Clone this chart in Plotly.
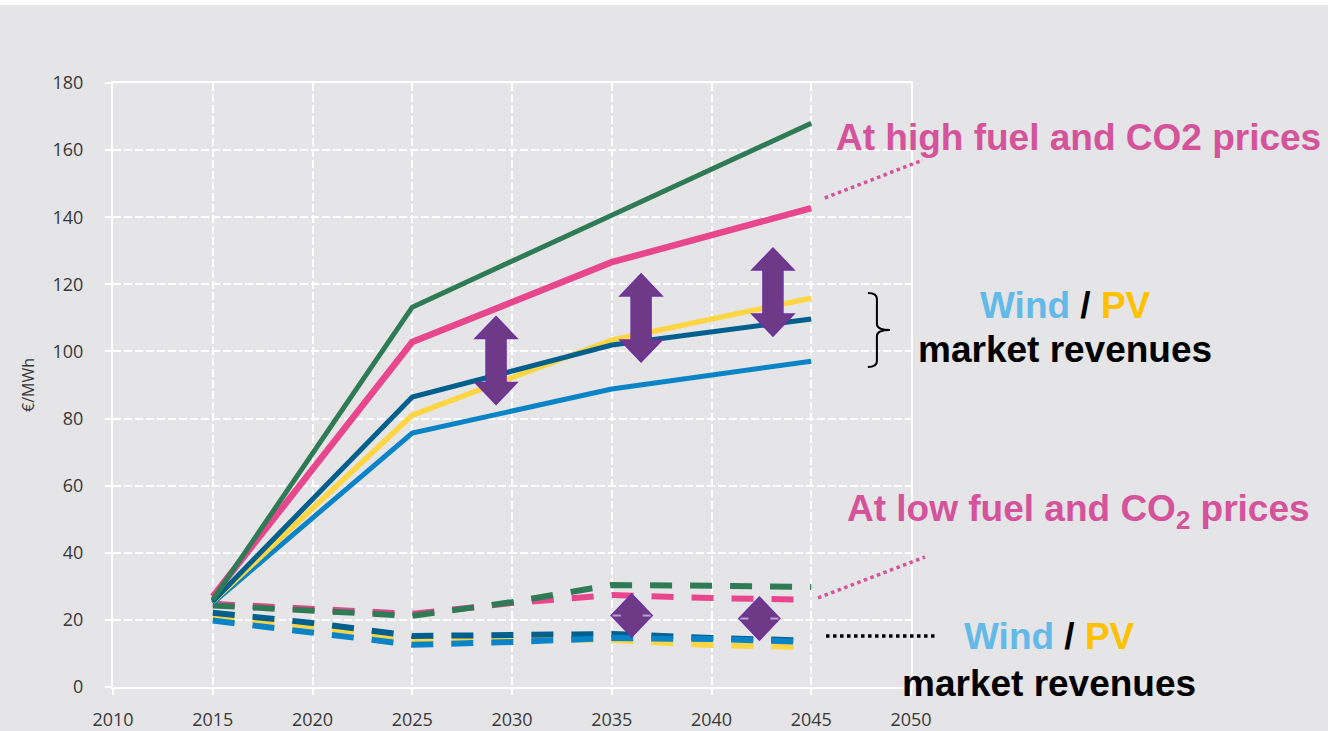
import plotly.graph_objects as go

# Wholesale electricity prices and renewable market revenues (€/MWh)
years = [2015, 2025, 2035, 2045]
years_dash = [2015, 2020, 2025, 2030, 2035, 2040, 2045]

# High fuel and CO2 price scenario (solid lines)
high_baseload = [26, 113.2, 140.6, 168]
high_price = [27, 102.8, 126.6, 142.7]
high_pv = [25.5, 81, 103.4, 115.9]
high_wind_dark = [25.5, 86.4, 101.9, 109.7]
high_wind_light = [25, 75.7, 88.8, 97.1]

# Low fuel and CO2 price scenario (dashed lines)
low_baseload = [24.3, 22.6, 21.2, 25.3, 30.4, 30.2, 29.8]
low_price = [24.8, 23.2, 21.8, 25.0, 27.4, 26.5, 26.0]
low_pv = [21.0, 18.0, 14.2, 14.6, 14.0, 12.5, 11.9]
low_wind_dark = [22.1, 19.1, 15.2, 15.5, 15.8, 14.6, 13.8]
low_wind_light = [19.8, 16.4, 12.6, 13.4, 14.6, 14.3, 13.4]

x_ticks = [2010, 2015, 2020, 2025, 2030, 2035, 2040, 2045, 2050]
y_ticks = [0, 20, 40, 60, 80, 100, 120, 140, 160, 180]

GREEN = "#2e7b56"
PINK = "#e8478d"
YELLOW = "#fed543"
DARK_BLUE = "#005f8d"
LIGHT_BLUE = "#0a84c6"
PURPLE = "#6e3a87"
PURPLE_EDGE = "#7030a0"
TEXT_PINK = "#d4539a"
TEXT_BLUE = "#63b9e7"
TEXT_GOLD = "#ffc000"
BG = "#e5e5e8"

fig = go.Figure()

DASH = "22px,18px"
for vals, col in [(low_pv, YELLOW), (low_wind_dark, DARK_BLUE), (low_wind_light, LIGHT_BLUE),
                  (low_price, PINK), (low_baseload, GREEN)]:
    fig.add_trace(go.Scatter(x=years_dash, y=vals, mode="lines",
                             line=dict(color=col, width=6, dash=DASH),
                             hoverinfo="skip", showlegend=False))

for vals, col, w in [(high_wind_light, LIGHT_BLUE, 5), (high_pv, YELLOW, 5.5),
                     (high_wind_dark, DARK_BLUE, 5), (high_price, PINK, 6.5),
                     (high_baseload, GREEN, 5)]:
    fig.add_trace(go.Scatter(x=years, y=vals, mode="lines",
                             line=dict(color=col, width=w),
                             hoverinfo="skip", showlegend=False))

# Purple double arrows showing the gap between price and revenues
arrow_path = ("M 0,44 L 21,22 L 10,22 L 10,-22 L 21,-22 L 0,-44 "
              "L -21,-22 L -10,-22 L -10,22 L -21,22 Z")
diamond_path = "M 0,21.5 L 20.5,0 L 0,-21.5 L -20.5,0 Z"
shapes = []
for ax_, ay_ in [(2029.2, 97.3), (2036.47, 110.0), (2043.08, 117.7)]:
    shapes.append(dict(type="path", xref="x", yref="y", xsizemode="pixel", ysizemode="pixel",
                       xanchor=ax_, yanchor=ay_, path=arrow_path,
                       fillcolor=PURPLE, line=dict(color=PURPLE_EDGE, width=1.5)))
for ax_, ay_ in [(2036.0, 21.3), (2042.4, 20.4)]:
    shapes.append(dict(type="path", xref="x", yref="y", xsizemode="pixel", ysizemode="pixel",
                       xanchor=ax_, yanchor=ay_, path=diamond_path,
                       fillcolor=PURPLE, line=dict(color=PURPLE_EDGE, width=1.5)))
    for seg in ["M -19,0 L -11,0", "M 11,0 L 19,0"]:
        shapes.append(dict(type="path", xref="x", yref="y", xsizemode="pixel", ysizemode="pixel",
                           xanchor=ax_, yanchor=ay_, path=seg,
                           line=dict(color="#b9a2d6", width=2)))

# Leader lines and brace
shapes.append(dict(type="line", xref="paper", yref="paper", x0=0.892, y0=0.8096, x1=1.015, y1=0.8725,
                   line=dict(color=TEXT_PINK, width=3.5, dash="dot")))
shapes.append(dict(type="line", xref="paper", yref="paper", x0=0.8835, y0=0.1474, x1=1.0175, y1=0.2152,
                   line=dict(color=TEXT_PINK, width=3.5, dash="dot")))
shapes.append(dict(type="line", xref="paper", yref="paper", x0=0.8935, y0=0.0844, x1=1.0326, y1=0.0844,
                   line=dict(color="black", width=3.5, dash="dot")))
shapes.append(dict(type="path", xref="paper", yref="paper", xsizemode="pixel", ysizemode="pixel",
                   xanchor=0.946, yanchor=0.591,
                   path=("M 0,37 Q 9,37 9,31 L 9,6 Q 9,0 22,0 "
                         "Q 9,0 9,-6 L 9,-31 Q 9,-37 0,-37"),
                   line=dict(color="black", width=2)))
# thin white strip along the top edge
shapes.append(dict(type="rect", xref="paper", yref="paper", x0=-0.2, x1=1.6, y0=1.1291, y1=1.2,
                   fillcolor="white", line=dict(width=0), layer="below"))

BIG = dict(family="Liberation Sans, Arial, sans-serif", size=37)
annotations = [
    dict(text="<b>At high fuel and CO2 prices</b>", x=1.2105, y=0.909,
         font=dict(color=TEXT_PINK, **BIG)),
    dict(text="<b>At low fuel and CO<sub>2</sub> prices</b>", x=1.2105, y=0.2914,
         font=dict(color=TEXT_PINK, **BIG)),
    dict(text=(f"<b><span style='color:{TEXT_BLUE}'>Wind</span> / "
               f"<span style='color:{TEXT_GOLD}'>PV</span></b>"), x=1.193, y=0.632,
         font=dict(color="black", **BIG)),
    dict(text="<b>market revenues</b>", x=1.193, y=0.558, font=dict(color="black", **BIG)),
    dict(text=(f"<b><span style='color:{TEXT_BLUE}'>Wind</span> / "
               f"<span style='color:{TEXT_GOLD}'>PV</span></b>"), x=1.174, y=0.0828,
         font=dict(color="black", **BIG)),
    dict(text="<b>market revenues</b>", x=1.173, y=0.0066, font=dict(color="black", **BIG)),
]
for a in annotations:
    a.update(xref="paper", yref="paper", xanchor="center", yanchor="middle",
             showarrow=False)

axis_common = dict(
    showgrid=True, gridcolor="white", gridwidth=1.5, griddash="8px,3px",
    showline=True, mirror=True, linecolor="white", linewidth=2,
    ticks="outside", ticklen=6, tickcolor="white", tickwidth=1.5,
    zeroline=False, automargin=False,
    tickfont=dict(family="Open Sans, sans-serif", size=18, color="#383838"),
)

fig.update_layout(
    width=1328, height=731,
    margin=dict(l=113, r=417, t=83, b=44),
    paper_bgcolor=BG, plot_bgcolor=BG,
    shapes=shapes, annotations=annotations,
    xaxis=dict(range=[2010, 2050], tickvals=x_ticks, ticklabelstandoff=9, **axis_common),
    yaxis=dict(range=[0, 180], tickvals=y_ticks, ticklabelstandoff=18,
               title=dict(text="€/MWh", standoff=14,
                          font=dict(family="Open Sans, sans-serif", size=16, color="#383838")),
               **axis_common),
)

fig.write_html("out.html")
